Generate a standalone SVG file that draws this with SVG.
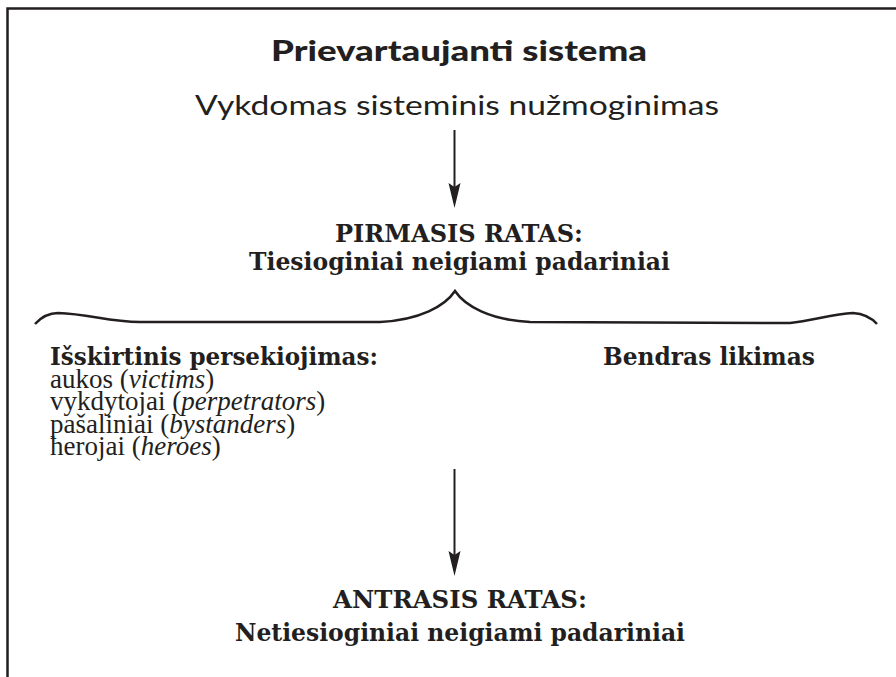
<svg xmlns="http://www.w3.org/2000/svg" width="896" height="677" viewBox="0 0 896 677">
  <style>
    .sans { font-family: Lato, "Open Sans", "Liberation Sans", sans-serif; fill: #231f20; }
    .serifb { font-family: "DejaVu Serif", "Liberation Serif", serif; font-weight: bold; fill: #231f20; }
    .lst { font-family: "Liberation Serif", "Times New Roman", serif; font-size: 27px; fill: #231f20; }
    .it { font-style: italic; }
    .line { stroke: #231f20; fill: none; }
    .head { fill: #231f20; stroke: none; }
  </style>
  <rect width="896" height="677" fill="#ffffff"/>
  <g id="frame">
    <path class="line" d="M7.5,677 L7.5,8.5 L896,8.5" stroke-width="2.5"/>
  </g>
  <g id="title">
    <text class="sans" x="459" y="61" text-anchor="middle" font-size="29" font-weight="900" textLength="376" lengthAdjust="spacingAndGlyphs">Prievartaujanti sistema</text>
    <text class="sans" x="457" y="115" text-anchor="middle" font-size="26" textLength="524" lengthAdjust="spacingAndGlyphs">Vykdomas sisteminis nužmoginimas</text>
  </g>
  <g id="first-circle">
    <text class="serifb" x="459" y="242" text-anchor="middle" font-size="24" textLength="248" lengthAdjust="spacingAndGlyphs">PIRMASIS RATAS:</text>
    <text class="serifb" x="459.5" y="270" text-anchor="middle" font-size="23.5" textLength="421" lengthAdjust="spacingAndGlyphs">Tiesioginiai neigiami padariniai</text>
  </g>
  <g id="brace">
    <path class="line" stroke-width="2.5" d="M35,324 Q45,313 58,313 C90,314 108,322 140,322 L380,322 C420,320 445,306 455,291 C465,306 490,320 530,322 L790,323 C812,321 832,314 853,313 Q868,314 877,324"/>
  </g>
  <g id="exclusive-persecution">
    <text class="serifb" x="50" y="365" font-size="23.5" textLength="328" lengthAdjust="spacingAndGlyphs">Išskirtinis persekiojimas:</text>
    <text class="lst" x="50" y="387.5">aukos (<tspan class="it">victims</tspan>)</text>
    <text class="lst" x="50" y="410">vykdytojai (<tspan class="it">perpetrators</tspan>)</text>
    <text class="lst" x="50" y="432.5">pašaliniai (<tspan class="it">bystanders</tspan>)</text>
    <text class="lst" x="50" y="455">herojai (<tspan class="it">heroes</tspan>)</text>
  </g>
  <g id="common-fate">
    <text class="serifb" x="603" y="365" font-size="23.5" textLength="212" lengthAdjust="spacingAndGlyphs">Bendras likimas</text>
  </g>
  <g id="second-circle">
    <text class="serifb" x="460" y="608" text-anchor="middle" font-size="24" textLength="254" lengthAdjust="spacingAndGlyphs">ANTRASIS RATAS:</text>
    <text class="serifb" x="460" y="641" text-anchor="middle" font-size="23.5" textLength="450" lengthAdjust="spacingAndGlyphs">Netiesioginiai neigiami padariniai</text>
  </g>
  <g id="connectors">
    <line class="line" x1="454.5" y1="130" x2="454.5" y2="190" stroke-width="2"/>
    <path class="head" d="M454.5,208 L448.5,183 L454.5,187 L460.5,183 Z"/>
    <line class="line" x1="454.5" y1="469" x2="454.5" y2="558" stroke-width="2"/>
    <path class="head" d="M454.5,576 L448.5,551 L454.5,555 L460.5,551 Z"/>
  </g>
</svg>
